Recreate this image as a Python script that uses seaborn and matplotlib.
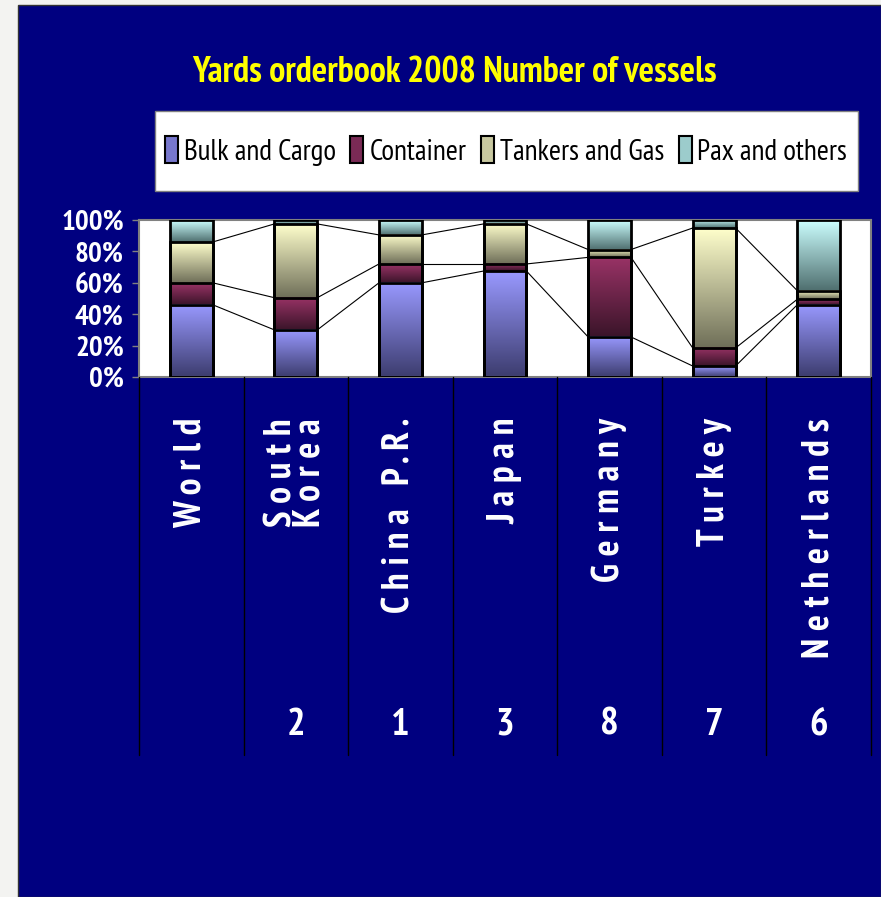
import numpy as np
import matplotlib
matplotlib.use('Agg')
import matplotlib.pyplot as plt
import seaborn as sns
from matplotlib.colors import LinearSegmentedColormap
from matplotlib.patches import Rectangle, Patch
from matplotlib.lines import Line2D
from matplotlib.transforms import blended_transform_factory

# Datos (porcentaje de buques por tipo)
countries = ['World', 'South Korea', 'China P.R.', 'Japan', 'Germany', 'Turkey', 'Netherlands']
ranks = ['', '2', '1', '3', '8', '7', '6']
series = ['Bulk and Cargo', 'Container', 'Tankers and Gas', 'Pax and others']
bulk = [46, 30, 60, 67.5, 25.5, 7, 46]
container = [14, 20.5, 12, 4.5, 50.7, 11.5, 3.5]
tankers = [26, 47, 18.5, 25.5, 5, 76.4, 5.5]
pax = [14, 2.5, 9.5, 2.5, 18.8, 5.1, 45]
yticks = [0, 20, 40, 60, 80, 100]

# colores degradados (oscuro abajo, claro arriba)
grads = [('#3c3c6e', '#9999ff'), ('#3a1429', '#993366'),
         ('#6e6e58', '#ffffcc'), ('#4e6e6e', '#ccffff')]
mids = ['#7777cc', '#7a2a55', '#c8c8a0', '#9ccccc']

sns.set_style('white')
FONT = ['PT Sans Narrow', 'DejaVu Sans']
plt.rcParams['font.family'] = FONT

W, H = 881, 897
fig = plt.figure(figsize=(W / 100, H / 100), dpi=100)
fig.patch.set_facecolor('#f3f3f1')
fig.patches.append(Rectangle((18 / W, 0), (W - 18) / W, (H - 5) / H, transform=fig.transFigure,
                             facecolor='#000080', edgecolor='#333333', lw=1, zorder=-2))

ax = fig.add_axes([139 / W, 1 - 377 / H, 732 / W, 157 / H])
ax.set_facecolor('white')

cum = np.cumsum([bulk, container, tankers, pax], axis=0)
grad = np.linspace(0, 1, 256).reshape(-1, 1)
edges = None
for k in reversed(range(4)):
    n0 = len(ax.patches)
    sns.barplot(x=countries, y=cum[k], color='white', width=0.41, saturation=1,
                edgecolor='black', linewidth=2, errorbar=None, ax=ax)
    cmap = LinearSegmentedColormap.from_list('g%d' % k, list(grads[k]))
    bars = ax.patches[n0:]
    for i, p in enumerate(bars):
        p.set_facecolor('none')
        p.set_zorder(3)
        lower = cum[k - 1][i] if k > 0 else 0
        ax.imshow(grad, cmap=cmap, extent=(p.get_x(), p.get_x() + p.get_width(), lower, cum[k][i]),
                  aspect='auto', origin='lower', zorder=2, interpolation='bilinear')
    edges = [(p.get_x(), p.get_x() + p.get_width()) for p in bars]

# lineas de serie
for k in range(3):
    for i in range(len(countries) - 1):
        ax.plot([edges[i][1], edges[i + 1][0]], [cum[k][i], cum[k][i + 1]],
                color='black', lw=0.8, zorder=2.5)

ax.set_xlim(-0.5, len(countries) - 0.5)
ax.set_ylim(0, 100)
ax.set_xticks([])
ax.set_xlabel('')
ax.set_ylabel('')
ax.set_yticks(yticks)
ax.set_yticklabels([f'{v}%' for v in yticks], color='white', fontsize=21, fontweight='bold')
ax.tick_params(axis='y', left=True, length=5, width=1, color='#808080', pad=6)
for s in ax.spines.values():
    s.set_color('#808080')
    s.set_linewidth(1.5)

trans = blended_transform_factory(ax.transData, fig.transFigure)
for b in np.arange(-0.5, len(countries)):
    fig.add_artist(Line2D([b, b], [1 - 377 / H, 1 - 755 / H], transform=trans, color='black', lw=1))

for i, name in enumerate(countries):
    label = '\n'.join(' '.join(w) for w in name.split()) if name == 'South Korea' else ' '.join(name)
    fig.text(i, 1 - 418 / H, label, transform=trans, rotation=90, ha='center', va='top',
             multialignment='right', linespacing=0.75,
             color='white', fontsize=27, fontweight='bold')
    fig.text(i, 1 - 725 / H, ranks[i], transform=trans, ha='center', va='center',
             color='white', fontsize=28, fontweight='bold')

fig.text(454 / W, 1 - 73 / H, 'Yards orderbook 2008 Number of vessels', color='#ffff00',
         fontsize=26, fontweight='bold', ha='center', va='center')

# leyenda
fig.patches.append(Rectangle((155 / W, 1 - 191 / H), 703 / W, 80 / H, transform=fig.transFigure,
                             facecolor='white', edgecolor='#808080', lw=1, zorder=1))
handles = [Patch(facecolor=c, edgecolor='black', lw=1.5) for c in mids]
leg = fig.legend(handles, series, loc='center', bbox_to_anchor=(506 / W, 1 - 151 / H), ncol=4,
                 frameon=False, prop={'family': FONT, 'size': 21}, labelcolor='black',
                 handlelength=0.45, handleheight=1.0, handletextpad=0.2, columnspacing=0.5)
leg.set_zorder(2)

fig.savefig('out.png', dpi=100, facecolor=fig.get_facecolor())
